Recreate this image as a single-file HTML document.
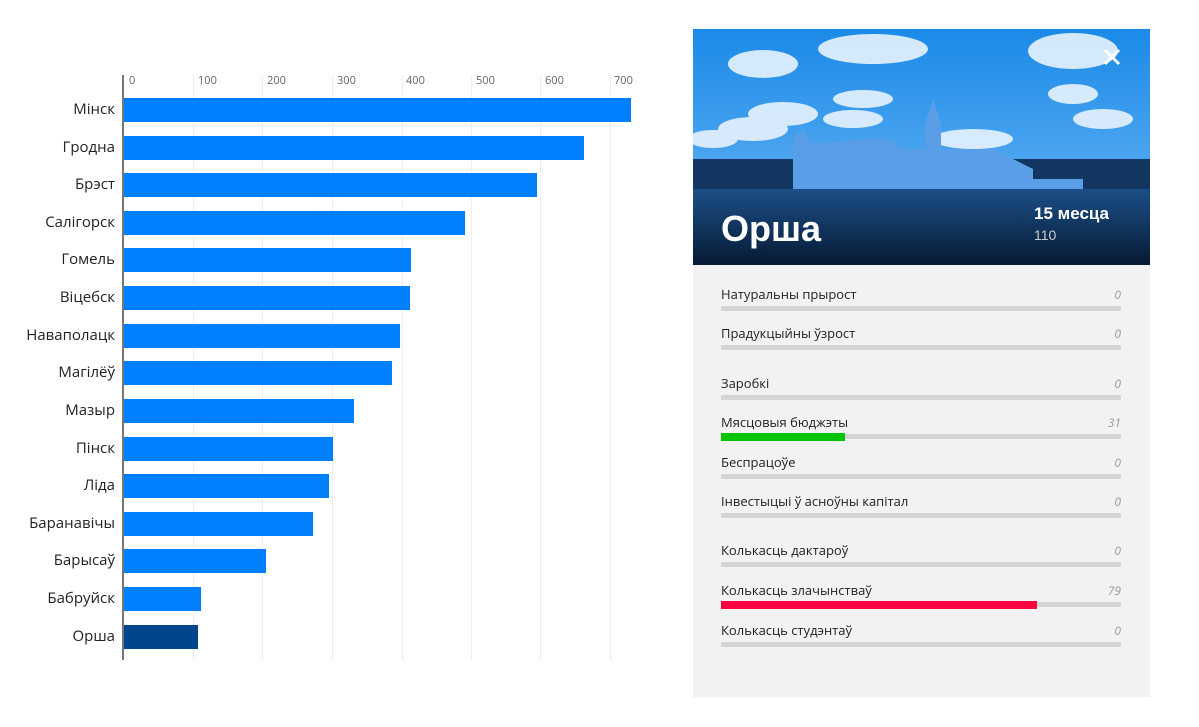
<!DOCTYPE html>
<html><head><meta charset="utf-8"><style>
body{margin:0;width:1199px;height:727px;background:#fff;font-family:"Open Sans","Liberation Sans","DejaVu Sans",sans-serif;position:relative;overflow:hidden}
.abs{position:absolute}
.lbl{position:absolute;right:1084px;font-size:15px;color:#222;text-align:right;white-space:nowrap}
.bar{position:absolute;left:124px;height:24px;background:#0080ff}
.grid{position:absolute;top:75px;height:585px;width:1px;background:#eee}
.tick{position:absolute;top:73px;font-size:11px;color:#666}
.rl{position:absolute;left:721px;font-size:13px;color:#222}
.rv{position:absolute;right:78px;font-size:12px;color:#999;font-style:italic}
.rb{position:absolute;left:721px;width:400px;height:5px;background:#d4d4d4}
</style></head><body>
<div class="grid" style="left:193px"></div><div class="grid" style="left:262px"></div><div class="grid" style="left:332px"></div><div class="grid" style="left:402px"></div><div class="grid" style="left:471px"></div><div class="grid" style="left:540px"></div><div class="grid" style="left:610px"></div>
<div class="tick" style="left:129px">0</div><div class="tick" style="left:198px">100</div><div class="tick" style="left:267px">200</div><div class="tick" style="left:337px">300</div><div class="tick" style="left:406px">400</div><div class="tick" style="left:476px">500</div><div class="tick" style="left:545px">600</div><div class="tick" style="left:614px">700</div>
<div class="abs" style="left:122px;top:75px;width:2px;height:585px;background:#777"></div>

<div class="bar" style="top:98px;width:507px"></div><div class="lbl" style="top:99px">Мінск</div>
<div class="bar" style="top:136px;width:460px"></div><div class="lbl" style="top:137px">Гродна</div>
<div class="bar" style="top:173px;width:413px"></div><div class="lbl" style="top:174px">Брэст</div>
<div class="bar" style="top:211px;width:341px"></div><div class="lbl" style="top:212px">Салігорск</div>
<div class="bar" style="top:248px;width:287px"></div><div class="lbl" style="top:249px">Гомель</div>
<div class="bar" style="top:286px;width:286px"></div><div class="lbl" style="top:287px">Віцебск</div>
<div class="bar" style="top:324px;width:276px"></div><div class="lbl" style="top:325px">Наваполацк</div>
<div class="bar" style="top:361px;width:268px"></div><div class="lbl" style="top:362px">Магілёў</div>
<div class="bar" style="top:399px;width:230px"></div><div class="lbl" style="top:400px">Мазыр</div>
<div class="bar" style="top:437px;width:209px"></div><div class="lbl" style="top:438px">Пінск</div>
<div class="bar" style="top:474px;width:205px"></div><div class="lbl" style="top:475px">Ліда</div>
<div class="bar" style="top:512px;width:189px"></div><div class="lbl" style="top:513px">Баранавічы</div>
<div class="bar" style="top:549px;width:142px"></div><div class="lbl" style="top:550px">Барысаў</div>
<div class="bar" style="top:587px;width:77px"></div><div class="lbl" style="top:588px">Бабруйск</div>
<div class="bar" style="top:625px;width:74px;background:#00468c"></div><div class="lbl" style="top:626px">Орша</div>

<div class="abs" style="left:693px;top:29px;width:457px;height:668px;background:#f2f2f2"></div>
<svg class="abs" style="left:693px;top:29px" width="457" height="236">
<defs><linearGradient id="s" x1="0" y1="0" x2="0" y2="1"><stop offset="0" stop-color="#1b8ae8"/><stop offset="0.6" stop-color="#4fa7f0"/><stop offset="1" stop-color="#3a8ee0"/></linearGradient>
<linearGradient id="g" x1="0" y1="0" x2="0" y2="1"><stop offset="0" stop-color="#1c4f88"/><stop offset="1" stop-color="#061a33"/></linearGradient></defs>
<rect width="457" height="236" fill="url(#s)"/>
<g fill="#e8f3ff" opacity="0.9"><ellipse cx="70" cy="35" rx="35" ry="14"/><ellipse cx="180" cy="20" rx="55" ry="15"/><ellipse cx="380" cy="22" rx="45" ry="18"/><ellipse cx="170" cy="70" rx="30" ry="9"/><ellipse cx="90" cy="85" rx="35" ry="12"/><ellipse cx="380" cy="65" rx="25" ry="10"/><ellipse cx="410" cy="90" rx="30" ry="10"/><ellipse cx="60" cy="100" rx="35" ry="12"/><ellipse cx="20" cy="110" rx="25" ry="9"/><ellipse cx="280" cy="110" rx="40" ry="10"/><ellipse cx="160" cy="90" rx="30" ry="9"/></g>
<rect x="0" y="130" width="457" height="45" fill="#12365f"/>
<path d="M100 170 L100 110 L110 100 L118 115 L180 110 L195 110 L210 120 L232 120 L232 95 L240 70 L248 95 L248 120 L300 120 L340 140 L340 150 L390 150 L390 170 Z" fill="#5b9ee8"/>
<rect x="0" y="160" width="457" height="76" fill="url(#g)"/>
<text x="28" y="212" font-family="Liberation Sans,sans-serif" font-weight="bold" font-size="36" fill="#fff">Орша</text>
<text x="341" y="190" font-family="Liberation Sans,sans-serif" font-weight="bold" font-size="17" fill="#fff">15 месца</text>
<text x="341" y="211" font-family="Liberation Sans,sans-serif" font-size="14" fill="#ccc">110</text>
<path d="M412 21 L426 35 M426 21 L412 35" stroke="#fff" stroke-width="3"/>
</svg>

<div class="rl" style="top:285px">Натуральны прырост</div><div class="rv" style="top:286px">0</div><div class="rb" style="top:306px"></div>
<div class="rl" style="top:324px">Прадукцыйны ўзрост</div><div class="rv" style="top:325px">0</div><div class="rb" style="top:345px"></div>
<div class="rl" style="top:374px">Заробкі</div><div class="rv" style="top:375px">0</div><div class="rb" style="top:395px"></div>
<div class="rl" style="top:413px">Мясцовыя бюджэты</div><div class="rv" style="top:414px">31</div><div class="rb" style="top:434px"></div><div class="abs" style="left:721px;top:433px;width:124px;height:8px;background:#00c400"></div>
<div class="rl" style="top:453px">Беспрацоўе</div><div class="rv" style="top:454px">0</div><div class="rb" style="top:474px"></div>
<div class="rl" style="top:492px">Інвестыцыі ў асноўны капітал</div><div class="rv" style="top:493px">0</div><div class="rb" style="top:513px"></div>
<div class="rl" style="top:541px">Колькасць дактароў</div><div class="rv" style="top:542px">0</div><div class="rb" style="top:562px"></div>
<div class="rl" style="top:581px">Колькасць злачынстваў</div><div class="rv" style="top:582px">79</div><div class="rb" style="top:602px"></div><div class="abs" style="left:721px;top:601px;width:316px;height:8px;background:#ff0040"></div>
<div class="rl" style="top:621px">Колькасць студэнтаў</div><div class="rv" style="top:622px">0</div><div class="rb" style="top:642px"></div>
</body></html>
